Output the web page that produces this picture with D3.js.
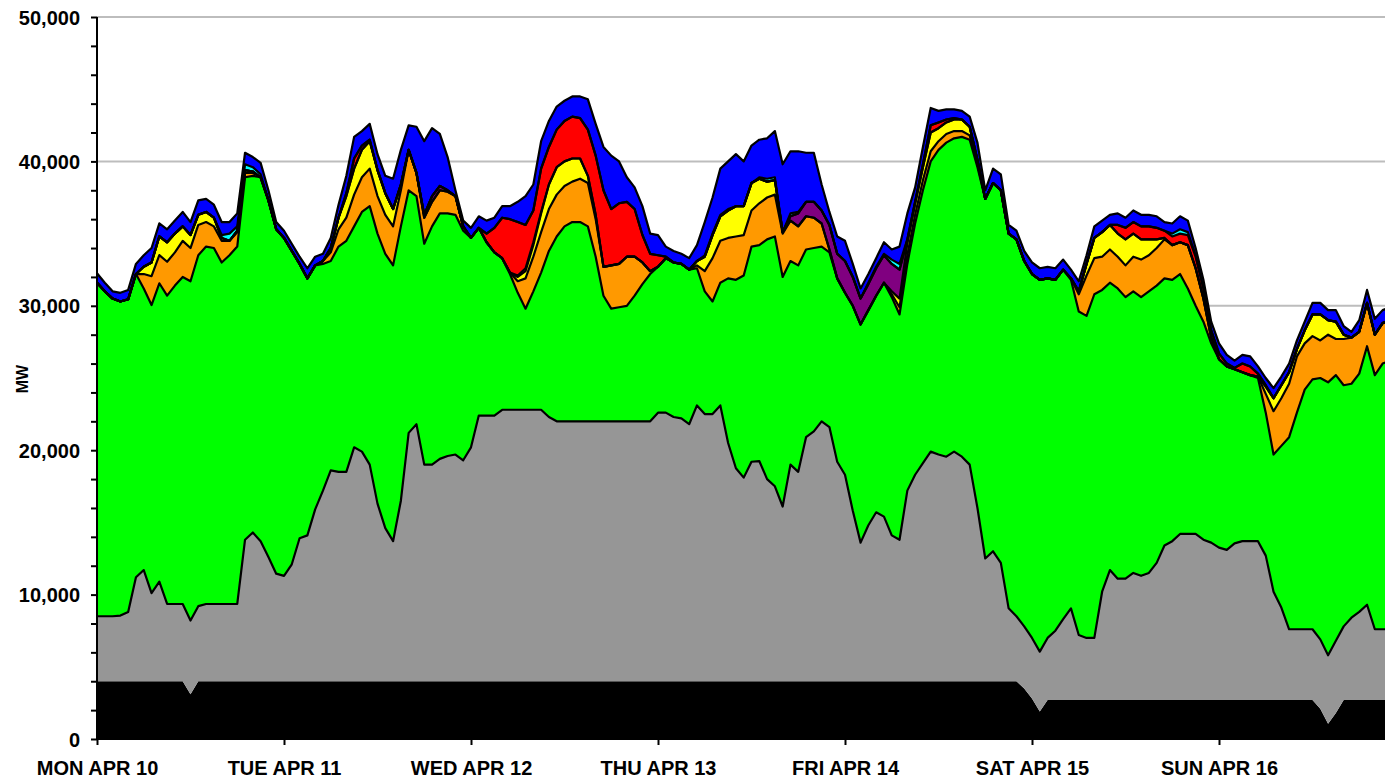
<!DOCTYPE html>
<html><head><meta charset="utf-8">
<script src="https://cdn.jsdelivr.net/npm/d3@7"></script>
<style>
body{margin:0;background:#fff}
svg{display:block}
text{font-family:"Liberation Sans",Arial,sans-serif;font-weight:bold;fill:#000}
</style>
</head><body>
<svg id="chart" width="1385" height="780"></svg>
<script>
// Hourly values, thousand MW, hour 0 = Mon Apr 10 00:00
const dayLabels = ["MON APR 10","TUE APR 11","WED APR 12","THU APR 13","FRI APR 14","SAT APR 15","SUN APR 16"];
const yTickLabels = [0,10,20,30,40,50];

const black = [
4,4,4,4,4,4,4,4,4,4,4,4,3.1,4,4,4,4,4,4,4,4,4,4,4,
4,4,4,4,4,4,4,4,4,4,4,4,4,4,4,4,4,4,4,4,4,4,4,4,
4,4,4,4,4,4,4,4,4,4,4,4,4,4,4,4,4,4,4,4,4,4,4,4,
4,4,4,4,4,4,4,4,4,4,4,4,4,4,4,4,4,4,4,4,4,4,4,4,
4,4,4,4,4,4,4,4,4,4,4,4,4,4,4,4,4,4,4,4,4,4,4,3.5,
2.8,1.9,2.7,2.7,2.7,2.7,2.7,2.7,2.7,2.7,2.7,2.7,2.7,2.7,2.7,2.7,2.7,2.7,2.7,2.7,2.7,2.7,2.7,2.7,
2.7,2.7,2.7,2.7,2.7,2.7,2.7,2.7,2.7,2.7,2.7,2.7,2.7,2.1,1.05,1.8,2.7,2.7,2.7,2.7,2.7,2.7,2.7];

const gray = [
4.5,4.5,4.5,4.55,4.8,7.2,7.7,6.1,6.9,5.35,5.35,5.35,5.1,5.2,5.35,5.35,5.35,5.35,5.35,9.8,10.3,9.7,8.6,7.45,
7.3,8.1,9.9,10.1,11.9,13.2,14.6,14.5,14.5,16.2,15.9,15.0,12.3,10.6,9.7,12.5,17.2,17.8,15.0,15.0,15.4,15.6,15.7,15.3,
16.2,18.4,18.4,18.4,18.8,18.8,18.8,18.8,18.8,18.8,18.3,18,18,18,18,18,18,18,18,18,18,18,18,18,
18.6,18.6,18.3,18.2,17.8,19.1,18.5,18.5,19.1,16.5,14.75,14.1,15.2,15.25,14.0,13.5,12.1,15.0,14.5,16.9,17.3,18.0,17.6,15.2,
14.3,11.8,9.6,10.8,11.7,11.4,10.1,9.8,13.2,14.3,15.1,15.9,15.7,15.55,15.9,15.55,15.0,12.0,8.5,9.0,8.2,5.05,4.5,4.3,
4.2,4.15,4.3,4.8,5.6,6.35,4.5,4.3,4.3,7.5,9.0,8.4,8.4,8.8,8.6,8.8,9.5,10.7,11.0,11.5,11.5,11.5,11.1,10.9,
10.55,10.4,10.85,11.0,11.0,11.0,10.0,7.5,6.4,4.9,4.9,4.9,4.9,4.8,4.75,5.0,5.1,5.7,6.1,6.6,4.9,4.9,4.9];

const green = [
23.1,22.5,22.0,21.75,21.65,21.0,19.5,19.95,20.66,21.35,22.05,22.65,23.5,24.3,24.75,24.65,23.65,24.15,24.75,25.1,24.7,25.2,24.7,23.85,
23.4,21.7,19.0,17.8,16.9,15.7,14.5,15.6,16.0,15.3,16.6,17.9,18.7,19.0,19.1,19.0,16.8,15.8,15.3,16.5,17.0,16.8,16.6,15.9,
14.5,13.0,12.0,11.3,10.5,9.4,8.1,7.0,8.2,9.5,11.5,12.8,13.5,13.8,13.8,13.5,11.4,8.7,7.8,7.9,8.0,8.7,9.5,10.2,
10.1,10.7,10.7,10.7,10.7,9.5,8.5,7.8,8.5,11.4,13.05,14.0,14.9,14.95,16.6,17.3,15.9,14.1,14.3,13.0,12.7,12.1,12.1,12.7,
12.6,14.2,15.1,14.9,15.0,16.2,16.5,15.6,15.7,17.4,18.9,20.1,21.1,21.75,21.7,22.15,22.5,23.6,24.9,25.5,25.8,25.95,26.1,25.3,
25.2,25.75,24.9,24.3,24.2,22.75,22.4,22.3,23.8,20.9,19.9,20.1,19.5,19.5,19.3,19.5,19.2,18.5,18.1,18.0,17.0,15.8,15.1,13.8,
13.05,12.7,12.05,11.7,11.5,11.3,9.9,9.5,11.2,13.3,15.0,16.6,17.3,18.1,18.9,18.4,16.7,16.2,16.5,17.9,17.6,18.4,18.6];

const orange = [
0,0,0,0,0,0,1.0,2.0,1.95,2.35,2.3,2.5,2.3,2.1,1.7,1.5,1.5,1.0,1.0,0.3,0.2,0,0,0,
0,0,0,0,0,0.2,0.6,1.2,1.6,2.2,2.4,2.6,2.6,2.7,2.7,2.5,2.8,1.6,1.8,1.7,1.6,1.5,1.3,0.3,
0,0,0,0,0,0.1,0.8,2.1,2.4,2.8,2.9,2.9,2.8,2.8,3.0,3.0,2.6,2.0,3.0,3.0,3.4,2.7,1.5,0.2,
0,0,0,0,0,0.2,1.4,3.0,2.9,2.8,3.0,2.8,2.5,2.9,2.9,2.9,3.0,2.8,2.7,2.3,2.1,1.6,0.2,0,
0,0,0,0,0,0,0.2,0.5,0.6,0.6,0.7,0.7,0.6,0.6,0.5,0.4,0.3,0.2,0,0,0,0,0,0,
0,0,0,0,0,0.1,1.2,2.8,2.5,2.3,2.3,2.2,2.2,2.4,2.6,2.5,2.6,2.7,2.4,2.2,3.0,2.6,1.6,0.4,
0,0,0,0,0,0.1,1.3,3.0,3.3,3.7,3.9,3.2,3.0,2.6,3.3,2.5,3.2,3.2,2.9,3.0,2.8,2.8,2.8];

const yellow = [
0,0,0,0,0,0,0.5,0.95,1.3,1.35,1.3,1.0,0.9,0.7,0.7,0.6,0.2,0,0.1,0.2,0.1,0,0,0,
0,0,0,0,0,0,0.3,0.8,1.5,1.8,1.9,1.9,1.8,1.5,1.2,0.4,0,0,0,0,0,0,0,0,
0,0,0,0,0,0,0.3,0.5,0.8,1.3,1.7,1.9,1.7,1.6,1.4,0.5,0.3,0,0,0,0,0,0,0,
0,0,0,0,0,0.3,1.0,1.6,1.7,1.9,2.1,2.0,1.9,1.7,1.1,1.0,0.1,0,0,0,0,0,0,0,
0,0,0,0,0,0,0.2,0.6,0.8,0.8,0.9,1.3,0.9,0.8,0.8,0.8,0.6,0.3,0,0,0,0,0,0,
0,0,0,0,0,0,0.2,0.8,1.4,1.7,1.7,1.6,1.8,1.6,1.4,1.1,0.6,0.1,0,0,0,0,0,0,
0,0,0,0,0,0,0.5,0.9,0.9,0.8,0.5,0.9,1.5,1.8,1.0,1.2,0.3,0,0,0,0,0,0];

const purple = [
0,0,0,0,0,0,0,0,0,0,0,0,0,0,0,0,0,0,0,0,0,0,0,0,
0,0,0,0,0,0,0,0,0,0,0,0,0,0,0,0,0,0,0.2,0.4,0.3,0.1,0,0,
0,0,0,0,0,0,0.1,0.2,0.2,0.1,0,0,0,0,0,0,0,0,0,0,0,0,0,0,
0,0,0,0,0,0,0,0,0,0,0,0,0,0,0,0,0,0.3,0.9,1.0,1.1,0.9,1.7,1.7,
2.2,2.0,1.8,1.8,1.9,1.9,1.9,2.0,0.2,0,0,0,0,0,0,0,0,0,0,0,0,0,0,0,
0,0,0,0,0,0,0,0,0,0,0,0,0,0,0,0,0,0,0,0,0,0,0,0,
0,0,0,0,0,0,0,0,0,0,0,0,0,0,0,0,0,0,0,0,0,0,0];

const red = [
0,0,0,0,0,0,0,0,0,0,0,0,0,0,0,0,0,0,0,0,0,0,0,0,
0,0,0,0,0,0,0,0,0.2,0.7,0.3,0.1,0,0,0,0,0,0,0,0,0,0,0,0,
0,0,0.6,1.7,2.8,3.7,3.7,3.0,2.2,3.0,2.6,2.6,2.8,2.9,2.8,3.2,4.1,5.3,3.9,4.2,3.8,3.3,1.9,1.2,
0.8,0.1,0,0,0,0,0,0,0,0,0,0,0,0,0,0,0,0,0,0,0,0,0,0,
0,0,0,0,0,0,0,0,0.1,0.1,0.2,0.5,0.4,0.2,0.1,0,0,0,0,0,0,0,0,0,
0,0,0,0,0,0,0,0,0,0,0,0.6,0.8,0.8,0.9,0.9,0.8,0.5,0.6,0.6,0.7,0.8,0.7,0.5,
0.4,0.2,0.1,0.6,0.6,0.2,0.1,0,0,0,0,0,0,0,0,0,0,0,0,0,0,0,0];

const cyan = [
0,0,0,0,0,0,0,0,0,0,0,0,0,0,0,0,0.2,0.5,0.3,0.4,0.3,0.2,0,0,
0,0,0,0,0,0,0,0,0,0,0,0,0,0,0,0,0,0,0,0,0,0,0,0,
0,0,0,0,0,0,0,0,0,0,0,0,0,0,0,0,0,0,0,0,0,0,0,0,
0,0,0,0,0,0,0.1,0.1,0.1,0.1,0,0,0,0.1,0.2,0.2,0,0.2,0.1,0,0,0,0,0,
0,0,0,0.1,0.1,0.1,0.3,0.4,0,0,0,0,0,0,0,0,0,0,0,0,0,0,0,0,
0,0,0,0,0,0,0,0,0,0,0,0,0,0,0,0,0,0,0.2,0.3,0.2,0.1,0,0,
0,0,0,0,0,0,0,0,0,0,0,0,0,0,0,0,0,0,0,0,0,0,0];

const blue = [
0.65,0.6,0.5,0.6,0.65,0.7,0.8,1.0,0.9,0.9,0.9,1.0,0.9,1.0,0.9,0.9,0.9,0.8,0.9,0.8,0.7,0.8,0.7,0.5,
0.5,0.5,0.5,0.7,0.6,0.5,0.7,0.9,1.2,1.5,1.0,1.1,1.1,1.2,2.1,2.4,1.7,3.2,5.1,4.7,3.6,2.3,0.4,0.4,
0.7,0.8,0.9,0.7,0.8,0.9,1.4,2.0,1.8,1.9,1.8,1.6,1.4,1.4,1.5,2.1,2.2,3.0,3.7,2.9,1.7,1.5,2.0,1.4,
1.4,0.7,0.8,0.7,0.8,1.1,2.3,2.5,3.2,3.3,3.6,3.1,2.6,2.6,2.8,3.2,4.7,4.3,4.2,3.4,3.4,1.8,0.9,1.2,
1.4,0.9,0.7,0.6,0.6,0.8,0.7,1.2,1.8,1.0,1.2,1.2,0.8,0.7,0.6,0.6,0.7,1.2,0.6,1.0,1.1,0.6,0.6,0.7,
0.8,0.8,0.8,0.8,0.7,0.6,0.7,0.6,0.8,0.8,0.7,0.8,0.7,0.8,0.8,0.8,0.8,0.6,0.7,0.9,0.8,0.5,0.6,0.6,
0.7,0.6,0.5,0.6,0.7,0.5,0.5,0.7,0.6,0.6,0.6,0.6,0.8,0.8,0.7,0.8,0.6,0.4,0.8,0.9,1.1,0.9,0.9];

const seriesKeys = ["black","gray","green","orange","yellow","purple","red","cyan","blue"];
const seriesData = {black, gray, green, orange, yellow, purple, red, cyan, blue};
const seriesColors = {black:"#000000", gray:"#969696", green:"#00ff00", orange:"#ff9900",
  yellow:"#ffff00", purple:"#800080", red:"#ff0000", cyan:"#00ffff", blue:"#0000ff"};

const rows = black.map((_, h) => {
  const r = {hour: h};
  seriesKeys.forEach(k => r[k] = seriesData[k][h]);
  return r;
});
const stacked = d3.stack().keys(seriesKeys)(rows);

const svg = d3.select("#chart");
const plotLeft = 97, plotTop = 17, plotBottom = 739, dayW = 187;
const x = d3.scaleLinear().domain([0, 168]).range([plotLeft, plotLeft + 7 * dayW]);
const y = d3.scaleLinear().domain([0, 50]).range([plotBottom, plotTop]);

// gridlines
svg.append("g").selectAll("line").data(yTickLabels.filter(d => d > 0)).join("line")
  .attr("x1", plotLeft).attr("x2", 1385)
  .attr("y1", d => y(d)).attr("y2", d => y(d))
  .attr("stroke", "#bdbdbd").attr("stroke-width", 2);

const area = d3.area().x(d => x(d.data.hour)).y0(d => y(d[0])).y1(d => y(d[1]));
const line = d3.line().x(d => x(d.data.hour)).y(d => y(d[1]));

svg.append("g").selectAll("path").data(stacked).join("path")
  .attr("d", area).attr("fill", d => seriesColors[d.key]).attr("stroke", "none");

svg.append("g").selectAll("path").data(stacked.filter(s => s.key !== "black")).join("path")
  .attr("d", line).attr("fill", "none").attr("stroke", "#000")
  .attr("stroke-width", 2.2).attr("stroke-linejoin", "round");

// y axis
const yAxis = d3.axisLeft(y).tickValues(d3.range(0, 51, 2))
  .tickSize(6).tickPadding(11)
  .tickFormat(d => d % 10 === 0 ? d3.format(",")(d * 1000) : "");
const gy = svg.append("g").attr("transform", `translate(${plotLeft},0)`).call(yAxis);
gy.select(".domain").attr("stroke", "#000").attr("stroke-width", 2).attr("d", `M0,${plotTop}V${plotBottom}`);
gy.selectAll(".tick line").attr("stroke", "#000").attr("stroke-width", 2);
gy.selectAll(".tick text").style("font-size", "20px").attr("dy", "0.35em");

// x axis
const xAxis = d3.axisBottom(x).tickValues(d3.range(0, 7).map(d => d * 24))
  .tickSize(6).tickPadding(16).tickFormat((d, i) => dayLabels[i]);
const gx = svg.append("g").attr("transform", `translate(0,${plotBottom})`).call(xAxis);
gx.select(".domain").attr("stroke", "#000").attr("stroke-width", 2).attr("d", `M${plotLeft},0H1385`);
gx.selectAll(".tick line").attr("stroke", "#000").attr("stroke-width", 2);
gx.selectAll(".tick text").style("font-size", "20px");

// y title
svg.append("text").attr("transform", `translate(28,379) rotate(-90)`)
  .attr("text-anchor", "middle").style("font-size", "16px").text("MW");
</script>
</body></html>
